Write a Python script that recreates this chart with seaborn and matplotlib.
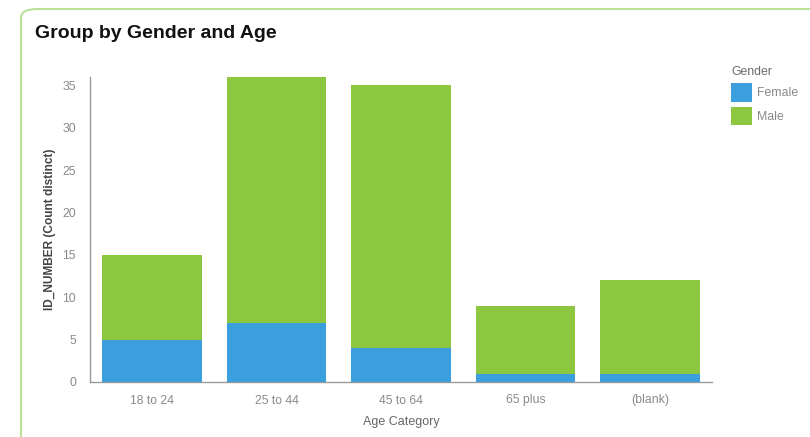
import matplotlib
matplotlib.use("Agg")
import matplotlib.pyplot as plt
import seaborn as sns
import pandas as pd
from matplotlib.patches import FancyBboxPatch, Patch

categories = ["18 to 24", "25 to 44", "45 to 64", "65 plus", "(blank)"]
female = [5, 7, 4, 1, 1]
male = [10, 29, 31, 8, 11]
totals = [f + m for f, m in zip(female, male)]
yticks = [0, 5, 10, 15, 20, 25, 30, 35]

blue = "#3a9fdc"
green = "#8dc63f"

sns.set_theme(style="white")
plt.rcParams['font.family'] = ['Liberation Sans', 'DejaVu Sans']

fig = plt.figure(figsize=(8.1, 4.37), dpi=100)
fig.patch.set_facecolor("white")

# card border
card = FancyBboxPatch((21/810, -0.2), 1.2, 1 - 9/437 + 0.2,
                      boxstyle="round,pad=0,rounding_size=0.02",
                      transform=fig.transFigure, fill=False,
                      edgecolor="#b9e29a", linewidth=1.5, zorder=0)
fig.patches.append(card)

ax = fig.add_axes([90/810, 1 - 382/437, (712 - 90)/810, (382 - 77)/437])

df = pd.DataFrame({"Age Category": categories, "Total": totals, "Female": female})
sns.barplot(data=df, x="Age Category", y="Total", color=green, width=0.8,
            saturation=1, linewidth=0, ax=ax, zorder=2)
sns.barplot(data=df, x="Age Category", y="Female", color=blue, width=0.8,
            saturation=1, linewidth=0, ax=ax, zorder=3)

ax.set_xlim(-0.5, 4.5)
ax.set_ylim(0, 36)
ax.set_yticks(yticks)
ax.tick_params(axis="both", labelsize=8.8, colors="#8a8a8a", length=0)
ax.tick_params(axis="x", pad=9)
ax.tick_params(axis="y", pad=10)
for s in ["top", "right"]:
    ax.spines[s].set_visible(False)
for s in ["left", "bottom"]:
    ax.spines[s].set_color("#9a9a9a")
    ax.spines[s].set_linewidth(1)
ax.set_xlabel("Age Category", fontsize=9, color="#666666", labelpad=7)
ax.set_ylabel("ID_NUMBER (Count distinct)", fontsize=8.6, color="#444444",
              fontweight="bold", labelpad=5)

fig.text(35/810, 1 - 33/437, "Group by Gender and Age", fontsize=14,
         fontweight="heavy", color="#111111", va="center", ha="left")

handles = [Patch(facecolor=blue, edgecolor="none", label="Female"),
           Patch(facecolor=green, edgecolor="none", label="Male")]
leg = fig.legend(handles=handles, title="Gender", loc="upper left",
                 bbox_to_anchor=(720/810, 1 - 55/437), frameon=False,
                 fontsize=8.8, title_fontsize=8.8, handlelength=1.7,
                 handleheight=1.9, handletextpad=0.4, labelspacing=0.45,
                 alignment="left")
for t in leg.get_texts():
    t.set_color("#8a8a8a")
leg.get_title().set_color("#6a6a6a")

fig.savefig("out.png", dpi=100, facecolor="white")
